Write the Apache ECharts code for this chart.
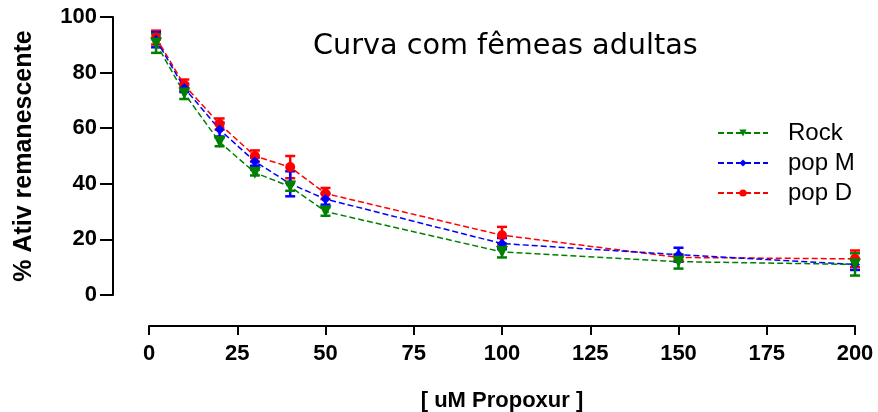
<!DOCTYPE html>
<html>
<head>
<meta charset="utf-8">
<script src="https://cdn.jsdelivr.net/npm/echarts@6/dist/echarts.min.js"></script>
<style>html,body{margin:0;padding:0;background:#fff}#c{width:878px;height:412px}</style>
</head>
<body>
<div id="c"></div>
<script>
const doses = [2, 10, 20, 30, 40, 50, 100, 150, 200];
const rock = [90.5, 72.5, 55, 44, 39, 30, 15.5, 12, 11];
const rockErr = [3.4, 2, 1.5, 1, 1.5, 1.5, 2, 2.5, 4];
const popM = [91.8, 74.5, 59.5, 48, 40, 34.5, 18.5, 14.5, 11];
const popMErr = [2.7, 1.5, 2.5, 1.5, 4.5, 2, 2, 2.5, 2];
const popD = [92.6, 75.5, 61.5, 50, 46, 36.5, 21.5, 13.5, 13];
const popDErr = [2.5, 2, 2, 2, 4, 2, 3, 1, 3];
const xTicks = [0, 25, 50, 75, 100, 125, 150, 175, 200];
const yTicks = [0, 20, 40, 60, 80, 100];

const seriesDefs = [
  {name: 'pop D', vals: popD, err: popDErr, color: '#ff0000', symbol: 'circle', size: 10, rot: 0},
  {name: 'pop M', vals: popM, err: popMErr, color: '#0000ff', symbol: 'diamond', size: 10, rot: 0},
  {name: 'Rock', vals: rock, err: rockErr, color: '#008000', symbol: 'triangle', size: 12, rot: 180}
];

const series = [];
seriesDefs.forEach(function (s) {
  series.push({
    name: s.name,
    type: 'line',
    data: doses.map(function (d, i) { return [d, s.vals[i]]; }),
    symbol: s.symbol,
    symbolSize: s.size,
    symbolRotate: s.rot,
    itemStyle: {color: s.color},
    lineStyle: {color: s.color, width: 1.5, type: [6, 3]},
    z: 3
  });
  series.push({
    name: s.name,
    type: 'custom',
    data: doses.map(function (d, i) { return [d, s.vals[i] - s.err[i], s.vals[i] + s.err[i]]; }),
    encode: {x: 0, y: [1, 2]},
    z: 3,
    renderItem: function (params, api) {
      const lo = api.coord([api.value(0), api.value(1)]);
      const hi = api.coord([api.value(0), api.value(2)]);
      const w = 5;
      const st = {stroke: s.color, lineWidth: 2.5};
      return {
        type: 'group',
        children: [
          {type: 'line', shape: {x1: lo[0], y1: lo[1], x2: hi[0], y2: hi[1]}, style: st},
          {type: 'line', shape: {x1: lo[0] - w, y1: lo[1], x2: lo[0] + w, y2: lo[1]}, style: st},
          {type: 'line', shape: {x1: hi[0] - w, y1: hi[1], x2: hi[0] + w, y2: hi[1]}, style: st}
        ]
      };
    }
  });
});

const chart = echarts.init(document.getElementById('c'));
chart.setOption({
  animation: false,
  backgroundColor: '#ffffff',
  title: {
    text: 'Curva com fêmeas adultas',
    left: 313, top: 32, padding: 0,
    textStyle: {fontFamily: 'DejaVu Sans', fontSize: 28.7, fontWeight: 'normal', color: '#000'}
  },
  legend: {
    data: ['Rock', 'pop M', 'pop D'],
    orient: 'vertical',
    left: 712, top: 116,
    itemWidth: 50, itemHeight: 9, itemGap: 6,
    textStyle: {fontFamily: 'Liberation Sans', fontSize: 24, color: '#000', padding: [0, 0, 0, 15]}
  },
  grid: {left: 149, right: 23, top: 17, bottom: 117, containLabel: false, outerBoundsMode: 'none'},
  xAxis: {
    type: 'value', min: 0, max: 200, interval: 25,
    offset: 31,
    name: '[ uM Propoxur ]', nameLocation: 'middle', nameGap: 64,
    nameTextStyle: {fontFamily: 'Liberation Sans', fontSize: 22, fontWeight: 'bold', color: '#000'},
    axisLine: {onZero: false, lineStyle: {color: '#000', width: 2}},
    axisTick: {length: 9, lineStyle: {color: '#000', width: 2}},
    axisLabel: {margin: 17, fontFamily: 'Liberation Sans', fontSize: 22, fontWeight: 'bold', color: '#000',
      formatter: function (v) { return xTicks.indexOf(v) >= 0 ? String(v) : ''; }},
    splitLine: {show: false}
  },
  yAxis: {
    type: 'value', min: 0, max: 100, interval: 20,
    offset: 36,
    name: '% Ativ remanescente', nameLocation: 'middle', nameGap: 76, nameRotate: 90,
    nameTextStyle: {fontFamily: 'Liberation Sans', fontSize: 25, fontWeight: 'bold', color: '#000'},
    axisLine: {show: true, onZero: false, lineStyle: {color: '#000', width: 2}},
    axisTick: {show: true, length: 13, lineStyle: {color: '#000', width: 2}},
    axisLabel: {margin: 16, fontFamily: 'Liberation Sans', fontSize: 22, fontWeight: 'bold', color: '#000',
      formatter: function (v) { return yTicks.indexOf(v) >= 0 ? String(v) : ''; }},
    splitLine: {show: false}
  },
  series: series
});
</script>
</body>
</html>
